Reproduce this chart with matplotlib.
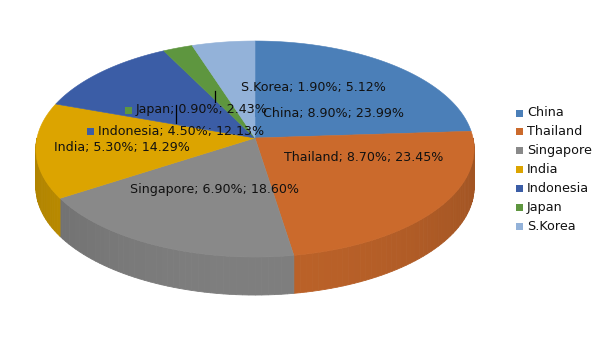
import numpy as np
import matplotlib
matplotlib.use("Agg")
import matplotlib.pyplot as plt
from matplotlib.patches import Polygon, Rectangle
from matplotlib.colors import to_rgb

# ---- data ----
countries = ["China", "Thailand", "Singapore", "India", "Indonesia", "Japan", "S.Korea"]
values = [8.90, 8.70, 6.90, 5.30, 4.50, 0.90, 1.90]
colors = ["#4B7FB8", "#CB6A2C", "#898989", "#DCA400", "#3B5DA6", "#5E963F", "#93B2D9"]

# ---- layout (pixels) ----
W, H = 605, 340
cx, cy = 255, 138          # apex of the pie on screen
a = 218                    # horizontal semi-axis
c, p = 106.9, 0.102        # simple perspective for vertical axis
depth = 38

# label layout: (marker center x, y, text x)
label_pos = {
    "S.Korea": (235, 88, 241),
    "Japan": (128.5, 110, 136),
    "China": (258, 113, 263),
    "Indonesia": (90.5, 131, 98),
    "India": (46, 147, 54),
    "Thailand": (276.5, 158, 284),
    "Singapore": (121.5, 189, 130),
}

fig = plt.figure(figsize=(W / 100, H / 100), dpi=100)
ax = fig.add_axes([0, 0, 1, 1])
ax.set_xlim(0, W)
ax.set_ylim(H, 0)
ax.axis("off")


def proj(phi_deg):
    phi = np.radians(phi_deg)
    u, v = np.cos(phi), np.sin(phi)
    x = cx + a * u / (1 + p * v)
    y = cy - c * v / (1 + p * v)
    return x, y


def shade(col, f):
    r, g, b = to_rgb(col)
    return (r * f, g * f, b * f)


total = sum(values)
fracs = np.array(values) / total
cum = np.concatenate([[0], np.cumsum(fracs)])
starts = 90 - 360 * cum[:-1]
ends = 90 - 360 * cum[1:]

# side walls (front half: standard angles in [-180, 0])
for s, e, col in zip(starts, ends, colors):
    lo, hi = min(s, e), max(s, e)
    for off in (0, -360):
        l2, h2 = max(lo + off, -180), min(hi + off, 0)
        if h2 <= l2:
            continue
        n = max(2, int((h2 - l2) / 1.5) + 1)
        angs = np.linspace(l2, h2, n)
        for a1, a2 in zip(angs[:-1], angs[1:]):
            x1, y1 = proj(a1)
            x2, y2 = proj(a2)
            mid = np.radians((a1 + a2) / 2)
            f = 0.80 + 0.12 * max(0, -np.sin(mid)) ** 2
            fc = shade(col, f)
            ax.add_patch(Polygon([(x1, y1), (x2, y2), (x2, y2 + depth), (x1, y1 + depth)],
                                 closed=True, facecolor=fc, edgecolor=fc, lw=0.6))

# top faces
for s, e, col in zip(starts, ends, colors):
    angs = np.linspace(s, e, max(3, int(abs(s - e)) + 2))
    xs, ys = proj(angs)
    pts = [(cx, cy)] + list(zip(xs, ys))
    ax.add_patch(Polygon(pts, closed=True, facecolor=col, edgecolor=col, lw=0.4))

# leader lines
ax.plot([215, 215], [91, 102], color="black", lw=0.9)
ax.plot([176, 176], [105, 123], color="black", lw=0.9)

# data labels
fs = 9.1
for name, v, fr, col in zip(countries, values, fracs, colors):
    mx, my, tx = label_pos[name]
    ax.add_patch(Rectangle((mx - 3.5, my - 3.5), 7, 7, facecolor=col, edgecolor="none"))
    ax.text(tx, my, f"{name}; {v:.2f}%; {fr * 100:.2f}%", fontsize=fs,
            va="center", ha="left", color="#111111", family="DejaVu Sans")

# legend
ly0, dly = 113, 18.9
for i, (name, col) in enumerate(zip(countries, colors)):
    y = ly0 + i * dly
    ax.add_patch(Rectangle((516, y - 3.5), 7, 7, facecolor=col, edgecolor="none"))
    ax.text(527, y, name, fontsize=9.2, va="center", ha="left", color="#111111",
            family="DejaVu Sans")

fig.savefig("out.png", dpi=100)
